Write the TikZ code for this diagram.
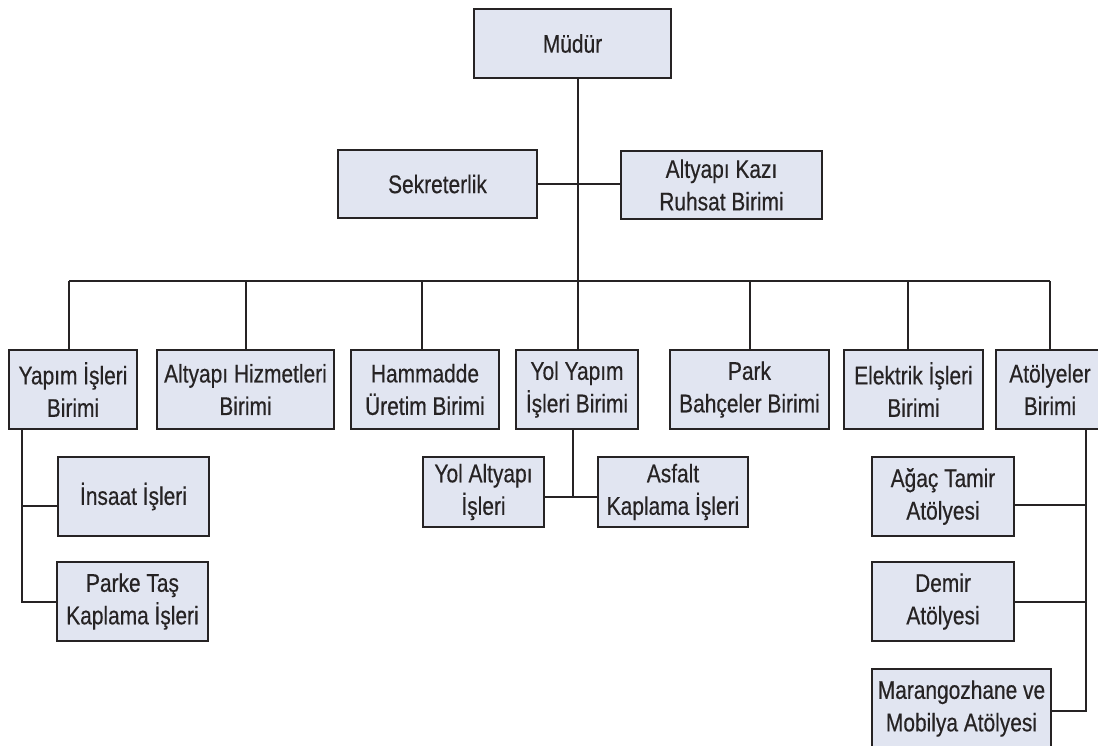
\documentclass[tikz,border=0pt]{standalone}
\usepackage{fontspec}
\setmainfont{Liberation Sans}[FakeStretch=0.82,FakeBold=0.4]
\definecolor{boxfill}{HTML}{E1E5F1}
\definecolor{ink}{HTML}{262324}
\begin{document}
\begin{tikzpicture}[x=1pt,y=-1pt,
  box/.style={draw=ink,fill=boxfill,line width=2pt,align=center,inner sep=0pt,
    font=\fontsize{25.5}{32.5}\selectfont,text=ink},
  link/.style={draw=ink,line width=1.9pt}]
\useasboundingbox (0,0) rectangle (1098,746);
% top
\node[box,minimum width=197,minimum height=69] (mudur) at (572.5,43.5) {Müdür};
\node[box,minimum width=199,minimum height=68] (sek) at (437.5,184) {Sekreterlik};
\node[box,minimum width=201,minimum height=68] (kazi) at (721.5,185) {Altyapı Kazı\\Ruhsat Birimi};
% row
\node[box,minimum width=128,minimum height=79] (yapim) at (73,389.5) {Yapım İşleri\\Birimi};
\node[box,minimum width=177,minimum height=79] (althiz) at (245.5,389.5) {Altyapı Hizmetleri\\Birimi};
\node[box,minimum width=148,minimum height=79] (ham) at (425,389.5) {Hammadde\\Üretim Birimi};
\node[box,minimum width=122,minimum height=79] (yol) at (577,389.5) {Yol Yapım\\İşleri Birimi};
\node[box,minimum width=159,minimum height=79] (park) at (749.5,389.5) {Park\\Bahçeler Birimi};
\node[box,minimum width=139,minimum height=79] (elek) at (913.5,389.5) {Elektrik İşleri\\Birimi};
\node[box,minimum width=108,minimum height=79] (atol) at (1050,389.5) {Atölyeler\\Birimi};
% sub boxes
\node[box,minimum width=151,minimum height=79] (insaat) at (133.5,496.5) {İnsaat İşleri};
\node[box,minimum width=151,minimum height=79] (parke) at (132.5,601.5) {Parke Taş\\Kaplama İşleri};
\node[box,minimum width=121,minimum height=70] (yolalt) at (483.5,492) {Yol Altyapı\\İşleri};
\node[box,minimum width=150,minimum height=70] (asf) at (673,492) {Asfalt\\Kaplama İşleri};
\node[box,minimum width=142,minimum height=79] (agac) at (943,496.5) {Ağaç Tamir\\Atölyesi};
\node[box,minimum width=142,minimum height=79] (demir) at (943,601.5) {Demir\\Atölyesi};
\node[box,minimum width=179,minimum height=79] (maran) at (961.5,708.5) {Marangozhane ve\\Mobilya Atölyesi};
% junction coordinates
\coordinate (sk) at (578,184);
\coordinate (d1) at (69,281);
\coordinate (d2) at (246,281);
\coordinate (d3) at (422,281);
\coordinate (d4) at (578,281);
\coordinate (d5) at (750,281);
\coordinate (d6) at (908,281);
\coordinate (d7) at (1050,281);
\coordinate (yj) at (573,497);
\coordinate (yi) at (22,506);
\coordinate (yp) at (22,602);
\coordinate (a1) at (1086,505);
\coordinate (a2) at (1086,602);
\coordinate (a3) at (1086,711);
% connectors
\draw[link] (mudur.south -| d4) -- (d4);
\draw[link] (sek.east |- sk) -- (kazi.west |- sk);
\draw[link] (d1) -- (d7);
\foreach \d/\n in {d1/yapim,d2/althiz,d3/ham,d4/yol,d5/park,d6/elek,d7/atol}
  \draw[link] (\d) -- (\d |- \n.north);
\draw[link] (yj |- yol.south) -- (yj);
\draw[link] (yolalt.east |- yj) -- (asf.west |- yj);
\draw[link] (yi |- yapim.south) -- (yp) -- (parke.west |- yp);
\draw[link] (yi) -- (insaat.west |- yi);
\draw[link] (a3 |- atol.south) -- (a3) -- (maran.east |- a3);
\draw[link] (a1) -- (agac.east |- a1);
\draw[link] (a2) -- (demir.east |- a2);
\end{tikzpicture}
\end{document}
